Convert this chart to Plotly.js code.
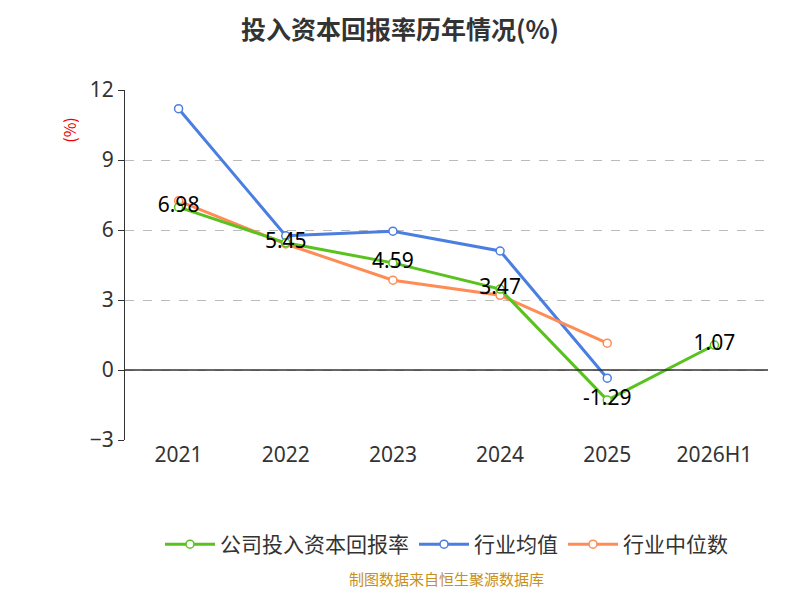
<!DOCTYPE html>
<html><head><meta charset="utf-8">
<script src="https://cdn.plot.ly/plotly-3.0.1.min.js"></script>
</head><body style="margin:0">
<div id="myDiv" style="width:800px;height:600px"></div>
<script>
var years = ['2021', '2022', '2023', '2024', '2025', '2026H1']
var company = [6.98, 5.45, 4.59, 3.47, -1.29, 1.07]
var industryAvg = [11.2, 5.75, 5.95, 5.1, -0.35]
var industryMed = [7.25, 5.4, 3.85, 3.2, 1.15]

function trace(name, y, color, text) {
  return {
    x: years.slice(0, y.length), y: y, name: name, type: 'scatter',
    mode: text ? 'lines+markers+text' : 'lines+markers',
    text: text ? y.map(String) : undefined, textposition: 'middle center',
    textfont: {size: 21, color: '#000', family: 'Noto Sans, sans-serif'},
    line: {color: color, width: 3},
    marker: {size: 8, color: '#fff', line: {color: color, width: 1.5}}
  }
}

var data = [
  trace('行业均值', industryAvg, '#4a7ee0'),
  trace('行业中位数', industryMed, '#ff8c55'),
  trace('公司投入资本回报率', company, '#5ac21e', true)
]
data[2].legendrank = 1; data[0].legendrank = 2; data[1].legendrank = 3

var layout = {
  width: 800, height: 600,
  font: {family: 'Noto Sans CJK SC, sans-serif', color: '#333'},
  title: {text: '<b>投入资本回报率历年情况(%)</b>', x: 0.5, y: 0.965, font: {size: 25, color: '#333'}},
  margin: {l: 125, r: 32, t: 90, b: 160},
  showlegend: true,
  legend: {orientation: 'h', x: 0.5, xanchor: 'center', y: -0.24, font: {size: 21}, itemwidth: 50},
  xaxis: {type: 'category', range: [-0.5, 5.5], showline: false, ticks: '', tickfont: {size: 21, family: 'Noto Sans, sans-serif'},
    showgrid: false, zeroline: false},
  yaxis: {range: [-3, 12], tickvals: [-3, 0, 3, 6, 9, 12], tickfont: {size: 21, family: 'Noto Sans, sans-serif'}, showgrid: true,
    gridcolor: '#bbb', griddash: 'dash', zeroline: false, showline: true, linecolor: '#333',
    ticks: 'outside', tickcolor: '#333', ticklen: 6, ticksuffix: '  '},
  shapes: [{type: 'line', xref: 'paper', x0: 0, x1: 1, yref: 'y', y0: 0, y1: 0, line: {color: '#333', width: 1.5}}],
  annotations: [
    {text: '(%)', xref: 'paper', yref: 'paper', x: -0.11, y: 0.93, showarrow: false, textangle: -90, font: {size: 16, color: '#e00'}},
    {text: '制图数据来自恒生聚源数据库', xref: 'paper', yref: 'paper', x: 0.5, y: -0.43, showarrow: false, font: {size: 15, color: '#c89020'}}
  ]
}

Plotly.newPlot('myDiv', data, layout, {displayModeBar: false})
</script>
</body></html>
